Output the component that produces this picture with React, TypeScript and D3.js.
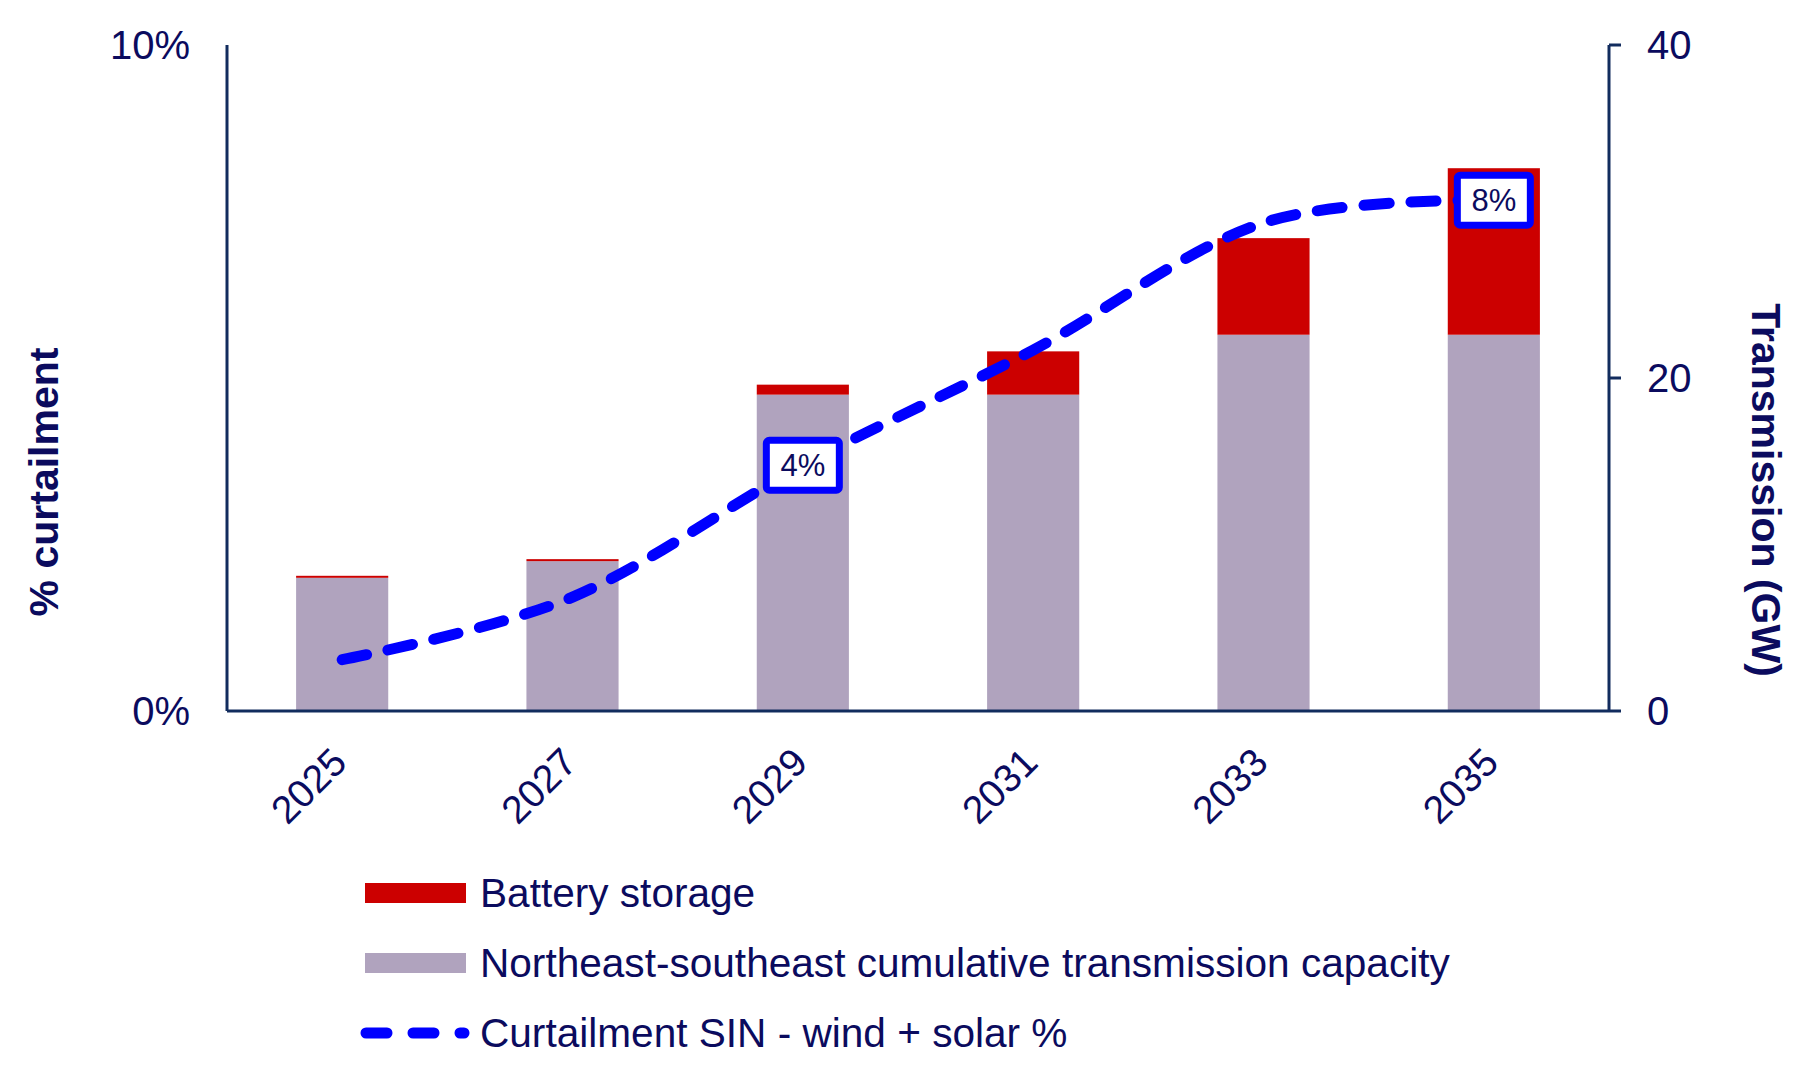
import * as d3 from 'd3'

// values
const years = ['2025', '2027', '2029', '2031', '2033', '2035']
const transmission = [8.0, 9.0, 19.0, 19.0, 22.6, 22.6] // GW, right axis
const battery = [0.12, 0.12, 0.6, 2.6, 5.8, 10.0] // GW, stacked on transmission
const curtailment = [0.77, 1.71, 3.69, 5.42, 7.33, 7.67] // %, left axis
const pointLabels = ['', '', '4%', '', '', '8%']

const leftTicks = [0, 10]
const rightTicks = [0, 20, 40]

const legendItems = [
  { label: 'Battery storage', kind: 'bar', color: '#cc0000' },
  { label: 'Northeast-southeast cumulative transmission capacity', kind: 'bar', color: '#b0a3be' },
  { label: 'Curtailment SIN - wind + solar %', kind: 'line', color: '#0000ff' },
]

const W = 1800
const H = 1086
const margin = { left: 227, right: 191, top: 45, bottom: 375 }
const textColor = '#0b0b5e'
const axisColor = '#122c5e'
const font = '"Liberation Sans", Arial, sans-serif'

export default function App() {
  const x = d3.scaleBand<string>()
    .domain(years)
    .range([margin.left, W - margin.right])
    .paddingInner(0.6)
    .paddingOuter(0.3)

  const yRight = d3.scaleLinear().domain([0, 40]).range([H - margin.bottom, margin.top])
  const yLeft = d3.scaleLinear().domain([0, 10]).range([H - margin.bottom, margin.top])

  const baseY = yRight(0)
  const cx = (y: string) => (x(y) ?? 0) + x.bandwidth() / 2

  // Excel-style smoothed line
  const line = d3.line<number>()
    .x((_, i) => cx(years[i]))
    .y(d => yLeft(d))
    .curve(d3.curveCatmullRom.alpha(0))

  return (
    <svg
      width={W}
      height={H}
      style={{ position: 'absolute', left: 0, top: 0, background: '#fff' }}
      fontFamily={font}
    >
      {/* stacked bars */}
      {years.map((yr, i) => (
        <g key={yr}>
          <rect
            x={x(yr)}
            width={x.bandwidth()}
            y={yRight(transmission[i])}
            height={baseY - yRight(transmission[i])}
            fill="#b0a3be"
          />
          <rect
            x={x(yr)}
            width={x.bandwidth()}
            y={yRight(transmission[i] + battery[i])}
            height={yRight(transmission[i]) - yRight(transmission[i] + battery[i])}
            fill="#cc0000"
          />
        </g>
      ))}

      {/* axes */}
      <line x1={margin.left} x2={margin.left} y1={margin.top} y2={baseY} stroke={axisColor} strokeWidth={3} />
      <line x1={margin.left} x2={W - margin.right} y1={baseY} y2={baseY} stroke={axisColor} strokeWidth={3} />
      <line x1={W - margin.right} x2={W - margin.right} y1={margin.top} y2={baseY} stroke={axisColor} strokeWidth={3} />
      {rightTicks.map(t => (
        <g key={t}>
          <line x1={W - margin.right} x2={W - margin.right + 12} y1={yRight(t)} y2={yRight(t)} stroke={axisColor} strokeWidth={3} />
          <text x={W - margin.right + 38} y={yRight(t)} dy="0.35em" fontSize={40} fill={textColor}>{t}</text>
        </g>
      ))}
      {leftTicks.map(t => (
        <text key={t} x={190} y={yLeft(t)} dy="0.35em" fontSize={40} fill={textColor} textAnchor="end">{t}%</text>
      ))}
      {years.map(yr => (
        <text
          key={yr}
          transform={`translate(${cx(yr) - 3}, ${baseY + 44}) rotate(-45)`}
          dy="0.35em"
          textAnchor="end"
          fontSize={39}
          fill={textColor}
        >
          {yr}
        </text>
      ))}

      {/* axis titles */}
      <text transform="translate(44, 482) rotate(-90)" dy="0.35em" textAnchor="middle" fontSize={41} fontWeight="bold" fill={textColor}>
        % curtailment
      </text>
      <text transform="translate(1766, 490) rotate(90)" dy="0.35em" textAnchor="middle" fontSize={41} fontWeight="bold" fill={textColor}>
        Transmission (GW)
      </text>

      {/* curtailment line */}
      <path
        d={line(curtailment) ?? ''}
        fill="none"
        stroke="#0000ff"
        strokeWidth={11}
        strokeDasharray="25 22"
        strokeLinecap="round"
      />

      {/* data labels */}
      {curtailment.map((v, i) => pointLabels[i] ? (
        <g key={i} transform={`translate(${cx(years[i])}, ${yLeft(v)})`}>
          <rect x={-36.5} y={-25} width={73} height={50} rx={3} fill="#fff" stroke="#0000ff" strokeWidth={7} />
          <text textAnchor="middle" dy="0.36em" fontSize={31} fill={textColor}>{pointLabels[i]}</text>
        </g>
      ) : null)}

      {/* legend */}
      {legendItems.map((item, i) => {
        const cy = 893 + i * 70
        return (
          <g key={item.label}>
            {item.kind === 'bar' ? (
              <rect x={365} y={cy - 10} width={101} height={20} fill={item.color} />
            ) : (
              <line x1={366} x2={464} y1={cy} y2={cy} stroke={item.color} strokeWidth={11} strokeDasharray="21 26" strokeLinecap="round" />
            )}
            <text x={480} y={cy} dy="0.35em" fontSize={40.6} fill={textColor}>{item.label}</text>
          </g>
        )
      })}
    </svg>
  )
}
